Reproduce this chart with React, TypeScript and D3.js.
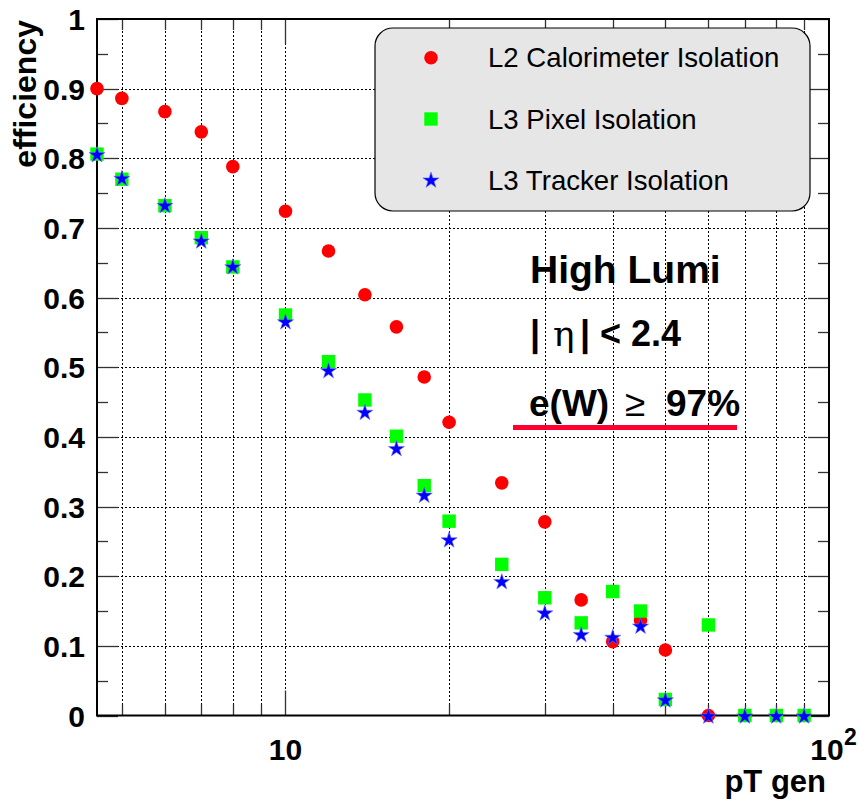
import React from "react";
import * as d3 from "d3";

// pT bins of the generated muon (GeV)
const ptValues = [4.5, 5, 6, 7, 8, 10, 12, 14, 16, 18, 20, 25, 30, 35, 40, 45, 50, 60, 70, 80, 90];

// efficiencies per isolation algorithm
const l2Calo = [0.9, 0.886, 0.867, 0.838, 0.788, 0.724, 0.667, 0.604, 0.558, 0.486, 0.421, 0.334, 0.278, 0.166, 0.106, 0.137, 0.094, 0, 0, 0, 0];
const l3Pixel = [0.806, 0.77, 0.732, 0.686, 0.644, 0.575, 0.508, 0.453, 0.401, 0.33, 0.279, 0.217, 0.169, 0.133, 0.178, 0.15, 0.023, 0.13, 0, 0, 0];
const l3Tracker = [0.806, 0.772, 0.733, 0.682, 0.645, 0.566, 0.496, 0.436, 0.384, 0.317, 0.253, 0.193, 0.148, 0.117, 0.113, 0.129, 0.023, 0, 0, 0, 0];

const legendLabels = ["L2 Calorimeter Isolation", "L3 Pixel Isolation", "L3 Tracker Isolation"];
const yTickValues = [0, 0.1, 0.2, 0.3, 0.4, 0.5, 0.6, 0.7, 0.8, 0.9, 1];
const xGridValues = [5, 6, 7, 8, 9, 10, 20, 30, 40, 50, 60, 70, 80, 90];

const W = 859;
const H = 806;
const left = 97;
const right = 829;
const top = 19;
const bottom = 715.5;
const FONT = "'Liberation Sans', Arial, Helvetica, sans-serif";

const x = d3.scaleLog().domain([4.5, 100]).range([left, right]);
const y = d3.scaleLinear().domain([0, 1]).range([bottom, top]);
// crisp 1px lines
const snap = (v: number) => Math.round(v) + 0.5;

const starPath = d3.symbol().type(d3.symbolStar).size(80)() as string;
const yMinor = d3.range(0.05, 1, 0.1);

function Circle({ cx, cy }: { cx: number; cy: number }) {
  return <circle cx={cx} cy={cy} r={6.8} fill="#ff0000" />;
}
function Square({ cx, cy }: { cx: number; cy: number }) {
  return <rect x={cx - 6.7} y={cy - 6.7} width={13.4} height={13.4} fill="#00ff00" />;
}
function Star({ cx, cy }: { cx: number; cy: number }) {
  return (
    <path
      d={starPath}
      transform={`translate(${cx},${cy + 1})`}
      fill="#0000ff"
      stroke="#6a6aff"
      strokeWidth={0.6}
    />
  );
}

export default function App() {
  const legendRows = [57.7, 119, 180.5];
  const yFmt = (v: number) => (v === 0 ? "0" : v === 1 ? "1" : v.toFixed(1));
  return (
    <svg
      width={W}
      height={H}
      style={{ position: "absolute", left: 0, top: 0, background: "#fff" }}
      fontFamily={FONT}
    >
      <rect x={0} y={0} width={W} height={H} fill="#fff" />

      {/* grid */}
      <g stroke="#000" strokeWidth={1} strokeDasharray="2,2">
        {xGridValues.map((v) => (
          <line key={"gx" + v} x1={snap(x(v))} x2={snap(x(v))} y1={top} y2={bottom} />
        ))}
        {yTickValues.slice(1, -1).map((v) => (
          <line key={"gy" + v} x1={left} x2={right} y1={snap(y(v))} y2={snap(y(v))} />
        ))}
      </g>

      {/* axis ticks */}
      <g stroke="#333" strokeWidth={1.3}>
        {yTickValues.map((v) => (
          <g key={"ty" + v}>
            <line x1={left} x2={left + 21} y1={snap(y(v))} y2={snap(y(v))} />
            <line x1={right} x2={right - 21} y1={snap(y(v))} y2={snap(y(v))} />
          </g>
        ))}
        {yMinor.map((v) => (
          <g key={"tym" + v}>
            <line x1={left} x2={left + 11} y1={snap(y(v))} y2={snap(y(v))} />
            <line x1={right} x2={right - 11} y1={snap(y(v))} y2={snap(y(v))} />
          </g>
        ))}
        {xGridValues.map((v) => {
          const len = v === 10 ? 25 : 11;
          return (
            <g key={"tx" + v}>
              <line x1={snap(x(v))} x2={snap(x(v))} y1={bottom} y2={bottom - len} />
              <line x1={snap(x(v))} x2={snap(x(v))} y1={top} y2={top + len} />
            </g>
          );
        })}
      </g>

      {/* frame */}
      <rect x={left} y={top} width={right - left} height={bottom - top} fill="none" stroke="#000" strokeWidth={2} />

      {/* y tick labels */}
      <g fontWeight="bold" fontSize={30} textAnchor="end" fill="#000">
        {yTickValues.map((v) => (
          <text key={"ly" + v} x={85} y={y(v) + 11}>
            {yFmt(v)}
          </text>
        ))}
      </g>

      {/* x tick labels */}
      <g fontWeight="bold" fill="#000">
        <text x={x(10)} y={760} fontSize={30} textAnchor="middle">10</text>
        <text x={827} y={760} fontSize={30} textAnchor="middle">10</text>
        <text x={844} y={745} fontSize={23}>2</text>
      </g>

      {/* axis titles */}
      <text x={826} y={792} fontSize={31} fontWeight="bold" textAnchor="end">pT gen</text>
      <text
        transform="translate(36,20) rotate(-90)"
        fontSize={32}
        fontWeight="bold"
        textAnchor="end"
      >
        efficiency
      </text>

      {/* legend */}
      <rect x={375} y={28} width={435} height={183} rx={18} ry={18} fill="#e6e6e6" stroke="#000" strokeWidth={1.2} />
      <Circle cx={431} cy={legendRows[0]} />
      <Square cx={431} cy={legendRows[1]} />
      <Star cx={431} cy={legendRows[2] - 1} />
      <g fontSize={27.6} fill="#000">
        {legendLabels.map((t, i) => (
          <text key={t} x={488} y={legendRows[i] + 9.5}>
            {t}
          </text>
        ))}
      </g>

      {/* annotations */}
      <g fontWeight="bold" fill="#000">
        <text x={530} y={283} fontSize={39}>High Lumi</text>
        <text y={346} fontSize={36}>
          <tspan x={530}>|</tspan>
          <tspan x={553} fontWeight="normal" fontFamily="'DejaVu Serif', 'Liberation Serif', serif">η</tspan>
          <tspan x={580}>|</tspan>
          <tspan x={600}>{"< 2.4"}</tspan>
        </text>
        <text y={416} fontSize={37}>
          <tspan x={529}>e(W)</tspan>
          <tspan x={625} fontWeight="normal">≥</tspan>
          <tspan x={666}>97%</tspan>
        </text>
      </g>
      <line x1={513} x2={737} y1={427.5} y2={427.5} stroke="#ff0033" strokeWidth={5} />

      {/* data markers */}
      <g>
        {ptValues.map((p, i) => (
          <Circle key={"c" + i} cx={x(p)} cy={y(l2Calo[i])} />
        ))}
      </g>
      <g>
        {ptValues.map((p, i) => (
          <Square key={"s" + i} cx={x(p)} cy={y(l3Pixel[i])} />
        ))}
      </g>
      <g>
        {ptValues.map((p, i) => (
          <Star key={"t" + i} cx={x(p)} cy={y(l3Tracker[i])} />
        ))}
      </g>
    </svg>
  );
}
